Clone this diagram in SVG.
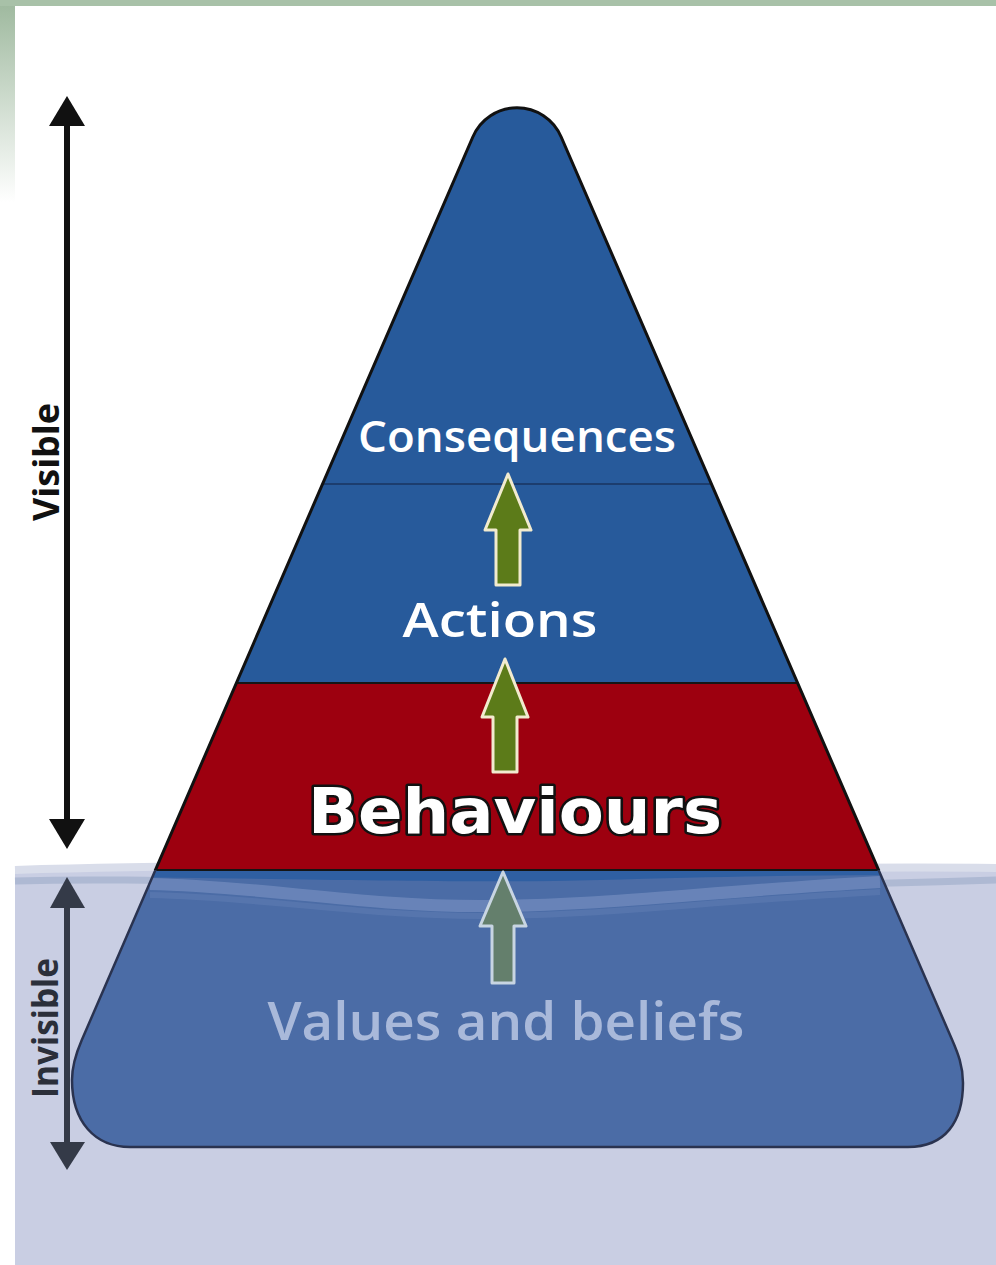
<svg xmlns="http://www.w3.org/2000/svg" width="996" height="1265" viewBox="0 0 996 1265">
  <defs>
    <linearGradient id="sideFade" x1="0" y1="0" x2="0" y2="1">
      <stop offset="0" stop-color="#9db89d"/>
      <stop offset="0.16" stop-color="#ffffff"/>
      <stop offset="1" stop-color="#ffffff"/>
    </linearGradient>
    <!-- pyramid silhouette: rounded apex, straight flanks, rounded base corners -->
    <path id="pyramidShape" d="M472.8,137 A48,48 0 0 1 561.2,137 L952.2,1040 C957.8,1052.9 963,1066 963,1083 C963,1122 945,1147 908,1147 L130,1147 C95,1147 72,1122 72,1080 C72,1066 76.2,1052.9 81.8,1040 Z"/>
    <clipPath id="pyrClip"><use href="#pyramidShape"/></clipPath>
    <clipPath id="aboveWater"><rect x="0" y="0" width="996" height="870"/></clipPath>
    <clipPath id="belowWater"><rect x="0" y="870" width="996" height="395"/></clipPath>
  </defs>
  <style>
    .tier-label { font-family: "Open Sans", "Liberation Sans", sans-serif; font-weight: 600; text-anchor: middle; }
    .axis-label { font-family: "Open Sans", "Liberation Sans", sans-serif; font-weight: 700; text-anchor: middle; }
    .divider { stroke-width: 2; fill: none; }
    .flow { fill: #5c7b19; stroke: #f2ebcf; stroke-width: 3; stroke-linejoin: round; }
    .flow-under { fill: #647f6c; stroke: #c8d5e2; stroke-width: 3; stroke-linejoin: round; }
  </style>

  <!-- page background with green frame -->
  <rect x="0" y="0" width="996" height="1265" fill="#ffffff"/>
  <rect x="0" y="0" width="15" height="1265" fill="url(#sideFade)"/>
  <rect x="0" y="0" width="996" height="6" fill="#a8c1a8"/>

  <!-- water body -->
  <g id="water">
    <rect x="15" y="866" width="981" height="399" fill="#c9cee3"/>
    <path d="M15,870 C200,864 400,866 600,868 S850,866 996,868" fill="none" stroke="#d9ddea" stroke-width="8"/>
    <path d="M15,881 C120,878 200,882 300,884 S700,890 996,880" fill="none" stroke="#aeb9d3" stroke-width="7"/>
  </g>

  <!-- pyramid body -->
  <g id="pyramid">
    <use href="#pyramidShape" fill="#275a9b"/>
    <g clip-path="url(#pyrClip)">
      <rect x="0" y="683" width="996" height="187" fill="#9d000f"/>
      <rect x="0" y="870" width="996" height="395" fill="#4b6ca6"/>
      <!-- surface ripple inside the submerged part -->
      <path d="M0,870 L996,870 L996,876 C850,874 750,876 600,880 C450,884 300,878 0,876 Z" fill="#2f5fa2"/>
      <path d="M150,884 C260,886 360,906 480,906 C600,906 700,892 880,882" fill="none" stroke="#6f8abd" stroke-width="12" opacity="0.8"/>
      <path d="M150,895 C260,897 360,916 480,916 C600,916 700,902 880,892" fill="none" stroke="#5d7bb3" stroke-width="6" opacity="0.6"/>
      <line class="divider" x1="0" y1="484" x2="996" y2="484" stroke="#1c3d6e" stroke-width="1.5"/>
      <line class="divider" x1="0" y1="683" x2="996" y2="683" stroke="#151515"/>
      <line class="divider" x1="0" y1="870" x2="996" y2="870" stroke="#151515" stroke-width="2.5"/>
    </g>
    <use href="#pyramidShape" fill="none" stroke="#111111" stroke-width="3" clip-path="url(#aboveWater)"/>
    <use href="#pyramidShape" fill="none" stroke="#2a3350" stroke-width="2.5" clip-path="url(#belowWater)"/>
  </g>

  <!-- visibility axis -->
  <g id="axis-visible">
    <line x1="67" y1="120" x2="67" y2="825" stroke="#111111" stroke-width="6"/>
    <polygon points="67,96 49,126 85,126" fill="#111111"/>
    <polygon points="67,849 49,819 85,819" fill="#111111"/>
    <text class="axis-label" transform="translate(59,462) rotate(-90)" font-size="35" fill="#111111" textLength="118" lengthAdjust="spacingAndGlyphs">Visible</text>
  </g>
  <g id="axis-invisible">
    <line x1="67" y1="900" x2="67" y2="1150" stroke="#343a48" stroke-width="6"/>
    <polygon points="67,877 50,908 85,908" fill="#343a48"/>
    <polygon points="67,1170 50,1142 85,1142" fill="#343a48"/>
    <text class="axis-label" transform="translate(58,1028) rotate(-90)" font-size="35" fill="#2b2f3a" textLength="140" lengthAdjust="spacingAndGlyphs">Invisible</text>
  </g>

  <!-- tiers -->
  <g id="consequences">
    <text class="tier-label" x="517" y="452" font-size="43" fill="#ffffff" textLength="318" lengthAdjust="spacingAndGlyphs">Consequences</text>
  </g>
  <g id="actions">
    <text class="tier-label" x="500" y="637" font-size="47" fill="#ffffff" textLength="195" lengthAdjust="spacingAndGlyphs">Actions</text>
  </g>
  <g id="behaviours">
    <text x="515" y="833" font-family="'DejaVu Sans', 'Liberation Sans', sans-serif" font-weight="700" font-size="62" text-anchor="middle" fill="#ffffff" stroke="#111111" stroke-width="5" stroke-linejoin="round" paint-order="stroke" textLength="414" lengthAdjust="spacingAndGlyphs">Behaviours</text>
  </g>
  <g id="values-beliefs">
    <text class="tier-label" x="506" y="1040" font-size="52" fill="#a9b9da" textLength="477" lengthAdjust="spacingAndGlyphs">Values and beliefs</text>
  </g>

  <!-- upward flow between tiers -->
  <g id="connectors">
    <polygon class="flow" points="508,474 531,530 520,530 520,585 496,585 496,530 485,530"/>
    <polygon class="flow" points="505,659 528,717 517,717 517,772 493,772 493,717 482,717"/>
    <polygon class="flow-under" points="503,872 526,926 514,926 514,983 492,983 492,926 480,926"/>
  </g>
</svg>
